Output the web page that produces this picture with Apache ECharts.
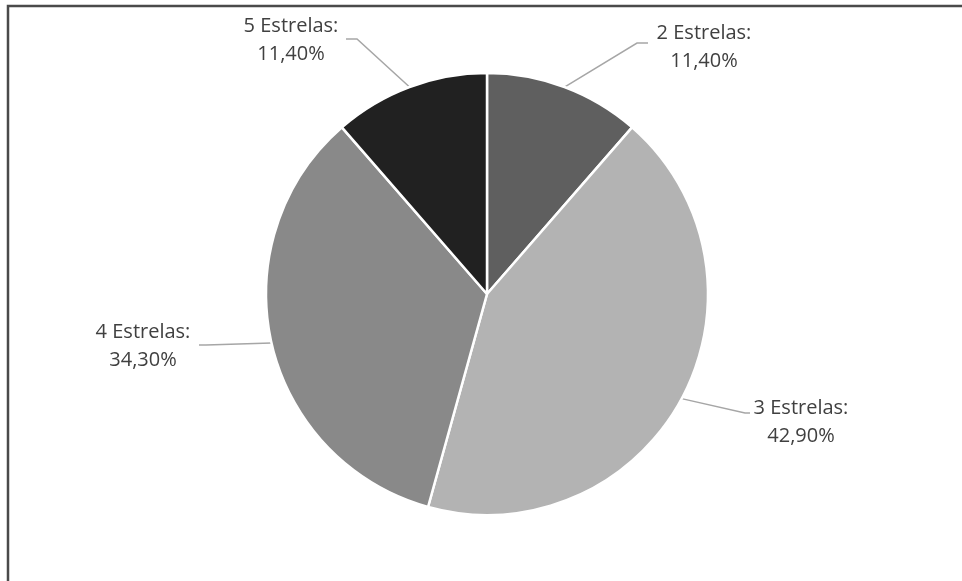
<!DOCTYPE html>
<html>
<head>
<meta charset="utf-8">
<script src="https://cdn.jsdelivr.net/npm/echarts@6/dist/echarts.min.js"></script>
<style>html,body{margin:0;padding:0;background:#fff;}#c{width:962px;height:581px;}</style>
</head>
<body>
<div id="c"></div>
<script>
const categories = ['2 Estrelas', '3 Estrelas', '4 Estrelas', '5 Estrelas'];
const values = [11.4, 42.9, 34.3, 11.4];
const sliceColors = ['#5f5f5f', '#b3b3b3', '#898989', '#212121'];

// label placement (styling): label centre, elbow and end of leader line
const labelPlacement = [
  { x: 704, y: 47, elbow: [637, 43], end: [648, 43] },
  { x: 801, y: 422, elbow: [745, 413], end: [750, 413] },
  { x: 143, y: 346, elbow: [206, 345], end: [199, 345] },
  { x: 291, y: 40, elbow: [357, 39], end: [346, 39] }
];

const chart = echarts.init(document.getElementById('c'), null, { renderer: 'canvas' });
chart.setOption({
  animation: false,
  backgroundColor: '#ffffff',
  graphic: [{
    type: 'rect',
    shape: { x: 8, y: 6, width: 1200, height: 800 },
    style: { fill: 'none', stroke: '#4a4a4a', lineWidth: 2.5 },
    z: 100
  }],
  series: [{
    type: 'pie',
    center: [487, 294],
    radius: [0, 221],
    startAngle: 90,
    clockwise: true,
    data: categories.map((n, i) => ({ name: n, value: values[i], itemStyle: { color: sliceColors[i] } })),
    itemStyle: { borderColor: '#ffffff', borderWidth: 2.5 },
    label: {
      show: true,
      position: 'outside',
      formatter: p => p.name + ':\n' + p.value.toFixed(2).replace('.', ',') + '%',
      fontFamily: 'Open Sans',
      fontSize: 20,
      lineHeight: 28,
      color: '#404040',
      align: 'center'
    },
    labelLine: {
      show: true,
      length: 20,
      length2: 10,
      lineStyle: { color: '#a6a6a6', width: 1.5 }
    },
    labelLayout: function (p) {
      const t = labelPlacement[p.dataIndex];
      const pts = p.labelLinePoints;
      return {
        x: t.x,
        y: t.y,
        align: 'center',
        verticalAlign: 'middle',
        labelLinePoints: [pts ? pts[0] : t.elbow, t.elbow, t.end]
      };
    },
    emphasis: { disabled: true }
  }]
});
</script>
</body>
</html>
